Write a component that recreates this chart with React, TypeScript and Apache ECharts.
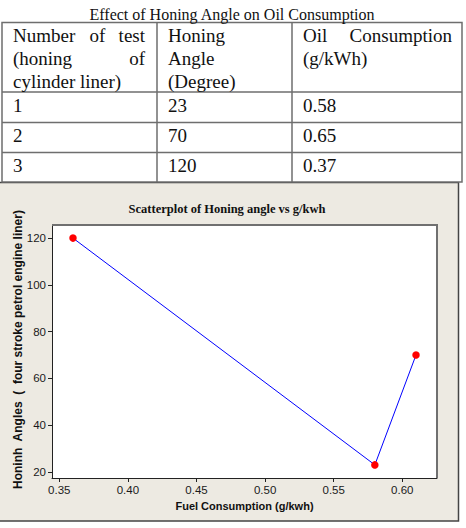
import React, { useEffect, useRef } from "react";
import * as echarts from "echarts";

// Table II contents
const tableCaption = "Effect of Honing Angle on Oil Consumption";
const testNumbers = ["1", "2", "3"];
const honingAngles = [23, 70, 120];
const oilConsumption = [0.58, 0.65, 0.37];

// Scatterplot series (fuel consumption vs honing angle)
const fuelConsumption = [0.36, 0.58, 0.61];
const plottedAngles = [120, 23, 70];
const xTicks = [0.35, 0.4, 0.45, 0.5, 0.55, 0.6];
const yTicks = [20, 40, 60, 80, 100, 120];

const chartTitle = "Scatterplot of Honing angle vs g/kwh";
const xAxisTitle = "Fuel Consumption (g/kwh)";
const yAxisTitle = "Honinh  Angles  (  four stroke petrol engine liner)";

const SERIF = '"Liberation Serif", "Times New Roman", serif';
const SANS = '"Liberation Sans", Arial, sans-serif';
const TABLE_FONT = `19px ${SERIF}`;
const PANEL_BG = "#EDEAE2";
const RULE = "#6e6e6e";

function txt(
  text: string,
  x: number,
  y: number,
  font: string,
  align: string = "left",
  extra: Record<string, unknown> = {}
) {
  return {
    type: "text",
    x,
    y,
    silent: true,
    ...extra,
    style: {
      text,
      font,
      fill: "#111",
      align,
      textAlign: align,
      verticalAlign: "middle",
      textVerticalAlign: "middle",
    },
  };
}

function buildTable() {
  const colX = [2, 157, 292, 462];
  const rowY = [22.5, 92, 122.5, 152.5, 182];
  const els: any[] = [];

  // white table body with ruled borders
  els.push({
    type: "rect",
    shape: { x: colX[0], y: rowY[0], width: colX[3] - colX[0], height: rowY[4] - rowY[0] },
    style: { fill: "#fff", stroke: RULE, lineWidth: 1.5 },
    silent: true,
  });
  for (let i = 1; i < rowY.length - 1; i++) {
    els.push({
      type: "line",
      shape: { x1: colX[0], y1: rowY[i], x2: colX[3], y2: rowY[i] },
      style: { stroke: RULE, lineWidth: 1.5 },
      silent: true,
    });
  }
  for (let i = 1; i < colX.length - 1; i++) {
    els.push({
      type: "line",
      shape: { x1: colX[i], y1: rowY[0], x2: colX[i], y2: rowY[4] },
      style: { stroke: RULE, lineWidth: 1.5 },
      silent: true,
    });
  }

  // caption
  els.push(txt(tableCaption, 232, 14, `16px ${SERIF}`, "center"));

  // header column 1 (justified)
  const c1L = 13;
  const c1R = 145;
  els.push(txt("Number", c1L, 35, TABLE_FONT));
  els.push(txt("of", 97.5, 35, TABLE_FONT, "center"));
  els.push(txt("test", c1R, 35, TABLE_FONT, "right"));
  els.push(txt("(honing", c1L, 58, TABLE_FONT));
  els.push(txt("of", c1R, 58, TABLE_FONT, "right"));
  els.push(txt("cylinder liner)", c1L, 81, TABLE_FONT));

  // header column 2
  const c2L = 168;
  els.push(txt("Honing", c2L, 35, TABLE_FONT));
  els.push(txt("Angle", c2L, 58, TABLE_FONT));
  els.push(txt("(Degree)", c2L, 81, TABLE_FONT));

  // header column 3 (first line justified)
  const c3L = 303;
  const c3R = 452;
  els.push(txt("Oil", c3L, 35, TABLE_FONT));
  els.push(txt("Consumption", c3R, 35, TABLE_FONT, "right"));
  els.push(txt("(g/kWh)", c3L, 58, TABLE_FONT));

  // data rows
  testNumbers.forEach((n, i) => {
    const cy = (rowY[i + 1] + rowY[i + 2]) / 2 - 2;
    els.push(txt(n, c1L, cy, TABLE_FONT));
    els.push(txt(String(honingAngles[i]), c2L, cy, TABLE_FONT));
    els.push(txt(oilConsumption[i].toFixed(2), c3L, cy, TABLE_FONT));
  });
  return els;
}

function buildPanel() {
  const els: any[] = [];
  // beige Minitab-style panel behind the graph
  els.push({
    type: "rect",
    z: -10,
    shape: { x: -2, y: 182.5, width: 460.5, height: 338.5 },
    style: { fill: PANEL_BG, stroke: "#444", lineWidth: 1.5 },
    silent: true,
  });
  // plot frame shadow on top and right edges
  els.push({
    type: "polyline",
    z: 10,
    shape: { points: [[52, 225], [437, 225], [437, 478]] },
    style: { stroke: "#707070", lineWidth: 2, fill: null },
    silent: true,
  });
  els.push(txt(chartTitle, 227, 209, `bold 12.5px ${SERIF}`, "center"));
  els.push(txt(xAxisTitle, 244.5, 506, `bold 11px ${SANS}`, "center"));
  els.push(
    txt(yAxisTitle, 17.5, 349.5, `bold 12px ${SANS}`, "center", { rotation: Math.PI / 2 })
  );
  return els;
}

export default function App() {
  const ref = useRef<HTMLDivElement>(null);

  useEffect(() => {
    if (!ref.current) return;
    const chart = echarts.init(ref.current, undefined, { renderer: "svg" });
    const points = fuelConsumption
      .map((x, i) => [x, plottedAngles[i]])
      .sort((a, b) => a[0] - b[0]);

    chart.setOption({
      animation: false,
      backgroundColor: "#fff",
      grid: {
        left: 52,
        top: 225,
        width: 385,
        height: 253,
        show: true,
        backgroundColor: "#fff",
        borderWidth: 0,
      },
      xAxis: {
        type: "value",
        min: 0.3447,
        max: 0.6253,
        splitLine: { show: false },
        axisLine: { show: true, onZero: false, lineStyle: { color: "#222", width: 1 } },
        axisTick: {
          show: true,
          length: 4,
          inside: false,
          customValues: xTicks,
          lineStyle: { color: "#222" },
        },
        axisLabel: {
          customValues: xTicks,
          formatter: (v: number) => v.toFixed(2),
          color: "#1a1a1a",
          fontFamily: SANS,
          fontSize: 11.5,
          margin: 6,
        },
      },
      yAxis: {
        type: "value",
        min: 17.4,
        max: 125.6,
        splitLine: { show: false },
        axisLine: { show: true, onZero: false, lineStyle: { color: "#222", width: 1 } },
        axisTick: {
          show: true,
          length: 4,
          inside: false,
          customValues: yTicks,
          lineStyle: { color: "#222" },
        },
        axisLabel: {
          customValues: yTicks,
          formatter: (v: number) => String(v),
          color: "#1a1a1a",
          fontFamily: SANS,
          fontSize: 11.5,
          margin: 6,
        },
      },
      series: [
        {
          type: "line",
          data: points,
          symbol: "circle",
          symbolSize: 7.5,
          itemStyle: { color: "#ff0000" },
          lineStyle: { color: "#0000ff", width: 1 },
          z: 5,
        },
      ],
      graphic: { elements: [...buildPanel(), ...buildTable()] },
    });

    return () => chart.dispose();
  }, []);

  return (
    <div
      ref={ref}
      style={{ position: "fixed", left: 0, top: 0, width: 466, height: 528 }}
    />
  );
}
